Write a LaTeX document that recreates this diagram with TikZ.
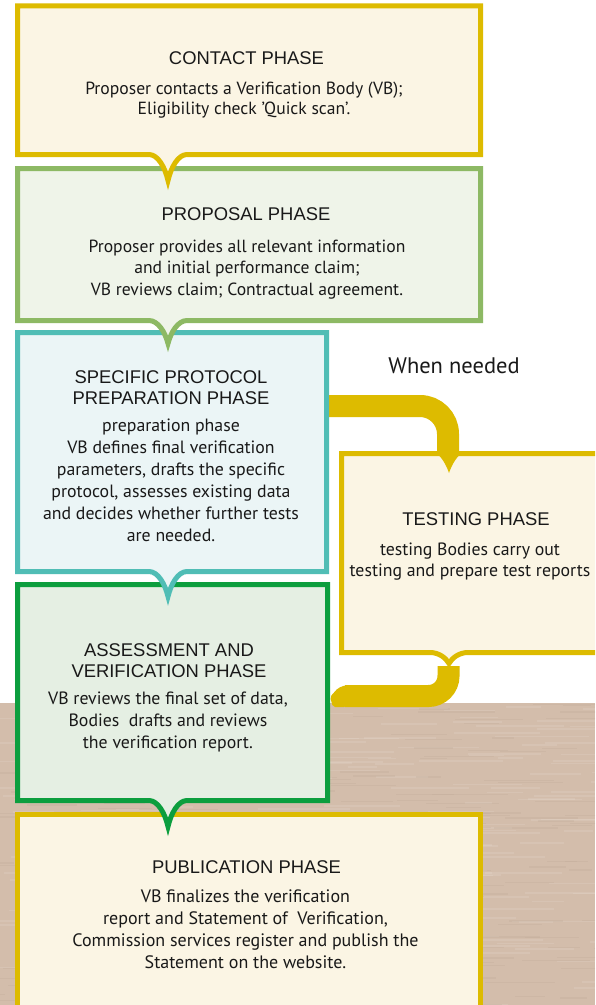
\documentclass[tikz,border=0pt]{standalone}
\usepackage{fontspec}
\setmainfont{PT Sans}
\newfontfamily\headfont{Liberation Sans}
\definecolor{myyellow}{RGB}{221,187,0}
\definecolor{cream}{RGB}{251,245,228}
\definecolor{lgreen}{RGB}{141,185,100}
\definecolor{lgreenfill}{RGB}{239,244,233}
\definecolor{teal}{RGB}{80,189,181}
\definecolor{tealfill}{RGB}{235,245,246}
\definecolor{dgreen}{RGB}{12,158,62}
\definecolor{dgreenfill}{RGB}{229,239,227}
\definecolor{brownbg}{RGB}{211,189,171}
\definecolor{browndark}{RGB}{190,168,150}
\definecolor{ink}{RGB}{25,25,25}
\newcommand\chevbox[8]{% x1,y1,x2,y2,xc,depth,fill,draw
  \filldraw[frame, fill=#7, draw=#8] (#1,#2) -- (#3,#2) -- (#3,#4) -- ({#5+19},#4)
   .. controls ({#5+10},#4) and ({#5+3},{#4+0.5*#6}) .. (#5,{#4+#6})
   .. controls ({#5-3},{#4+0.5*#6}) and ({#5-10},#4) .. ({#5-19},#4) -- (#1,#4) -- cycle;}
\tikzset{
  frame/.style={line width=5pt, line join=miter, miter limit=10},
  heading/.style={font=\headfont\fontsize{18.4}{21.5}\selectfont, align=center, anchor=base, inner sep=0pt, text=ink},
  body/.style={font=\fontsize{17.8}{22}\selectfont, align=center, anchor=base, inner sep=0pt, text=ink},
  band/.style={line width=22pt, draw=myyellow}
}
\begin{document}
\begin{tikzpicture}[x=1pt,y=-1pt]
\useasboundingbox (0,0) rectangle (595,1005);
\clip (0,0) rectangle (595,1005);
\fill[white] (0,0) rectangle (595,1005);
\fill[brownbg] (0,703) rectangle (595,1005);
\begin{scope}
\clip (0,703) rectangle (595,1005);
\pgfmathsetseed{7}
\foreach \i in {1,...,260}{
  \pgfmathsetmacro\xx{rnd*620-20}
  \pgfmathsetmacro\yy{703+rnd*302}
  \pgfmathsetmacro\ll{25+rnd*70}
  \fill[white, opacity=0.10] (\xx,\yy) rectangle ++(\ll,1.6);
}
\foreach \i in {1,...,220}{
  \pgfmathsetmacro\xx{rnd*620-20}
  \pgfmathsetmacro\yy{703+rnd*302}
  \pgfmathsetmacro\ll{20+rnd*60}
  \fill[browndark, opacity=0.25] (\xx,\yy) rectangle ++(\ll,1.3);
}
\end{scope}
% publication box
\filldraw[frame, fill=cream, draw=myyellow] (17.5,1020) -- (17.5,814.5) -- (480.5,814.5) -- (480.5,1020);
% assessment box
\chevbox{17.5}{584.5}{327.5}{800.5}{168}{26}{dgreenfill}{dgreen}
% testing box
\chevbox{341.5}{453.5}{610}{652.5}{449}{11}{cream}{myyellow}
% connectors
\coordinate (t1) at (326,406);
\coordinate (t2) at (448,452);
\draw[band, rounded corners=28pt] (t1) -| (t2);
\fill[myyellow] (433,451) .. controls (440,454) and (446,464) .. (449,473)
   .. controls (452,464) and (458,454) .. (465,451) -- cycle;
\coordinate (u1) at (448.5,666);
\coordinate (u2) at (345,696);
\draw[band, rounded corners=20pt] (u1) |- (u2);
\fill[myyellow, rounded corners=2pt] (346,685) -- (338,688) -- (330,697) -- (333,707) -- (346,707) -- cycle;
% specific protocol box
\chevbox{17.5}{332.5}{326.5}{571.5}{168}{25}{tealfill}{teal}
% proposal box
\chevbox{17.5}{168.5}{480.5}{320.5}{168}{23}{lgreenfill}{lgreen}
% contact box
\chevbox{17.5}{5.8}{480.5}{154.5}{168}{26}{cream}{myyellow}
% texts (base anchor = baseline of the last line)
\node[heading] (h1) at (246.5,64) {CONTACT PHASE};
\node[body, font=\fontsize{17.6}{20.5}\selectfont] (b1) at (244,114.5) {Proposer contacts a Verification Body (VB);\\Eligibility check ’Quick scan’.};
\node[heading] (h2) at (246,220) {PROPOSAL PHASE};
\node[body, font=\fontsize{17.6}{21.7}\selectfont] (b2) at (247,295.5) {Proposer provides all relevant information\\and initial performance claim;\\VB reviews claim; Contractual agreement.};
\node[heading] (h3) at (171,404.5) {SPECIFIC PROTOCOL\\PREPARATION PHASE};
\node[body] (b3) at (171,541) {preparation phase\\VB defines final verification\\parameters, drafts the specific\\protocol, assesses existing data\\and decides whether further tests\\are needed.};
\node[heading] (h4) at (169,677.5) {ASSESSMENT AND\\VERIFICATION PHASE};
\node[body] (b4) at (168,748) {VB reviews the final set of data,\\Bodies\ \ drafts and reviews\\the verification report.};
\node[heading] (h5) at (246.5,873) {PUBLICATION PHASE};
\node[body, font=\fontsize{18}{21.7}\selectfont] (b5) at (245.5,968) {VB finalizes the verification\\report and Statement of\ \ Verification,\\Commission services register and publish the\\Statement on the website.};
\node[heading] (h6) at (476,525) {TESTING PHASE};
\node[body, font=\fontsize{17.8}{21}\selectfont] (b6) at (470,576) {testing Bodies carry out\\testing and prepare test reports};
\node[body, font=\fontsize{22.5}{24}\selectfont] (wn) at (454,373) {When needed};
\end{tikzpicture}
\end{document}
